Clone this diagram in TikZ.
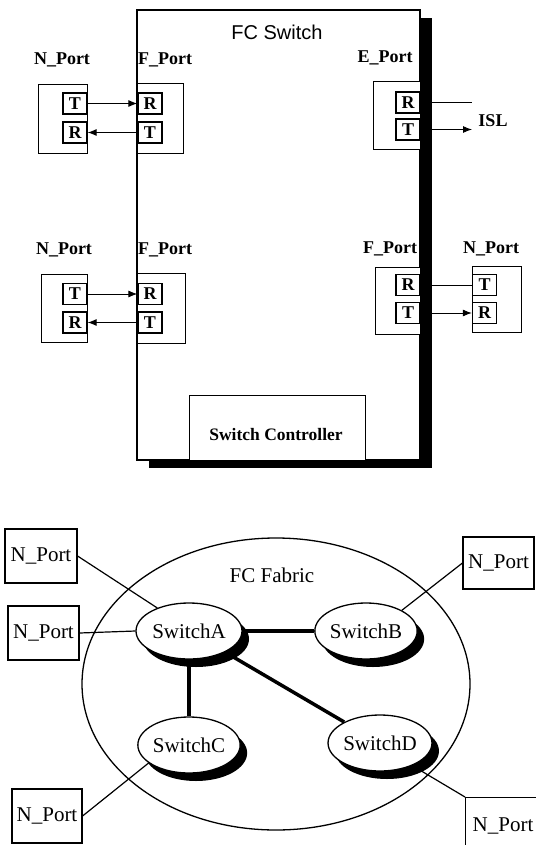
\documentclass[tikz,border=0pt]{standalone}
\usepackage{fontspec}
\setmainfont{Liberation Serif}
\newfontfamily\hvfont{Liberation Sans}
\usetikzlibrary{shapes.geometric, arrows.meta, shadows}
\tikzset{
  lbl/.style={font=\bfseries\fontsize{18}{18}\selectfont, inner sep=0pt},
  housing/.style={draw, fill=white, line width=0.9pt, inner sep=0pt},
  trbox/.style={draw, fill=white, line width=1.3pt, minimum width=24pt, minimum height=21pt,
    inner sep=0pt, font=\bfseries\fontsize{18}{18}\selectfont},
  wire/.style={line width=0.9pt},
  arr/.style={wire, -{Latex[length=9pt,width=7pt]}},
  swnode/.style={ellipse, draw, fill=white, line width=1.3pt, minimum width=100pt,
    minimum height=56pt, inner sep=0pt, font=\fontsize{21}{21}\selectfont,
    preaction={fill=black, transform canvas={shift={(7pt,-8pt)}}}},
  nport/.style={draw, fill=white, line width=1.1pt, minimum width=71pt, minimum height=54pt,
    inner sep=0pt, font=\fontsize{21}{21}\selectfont},
  link/.style={line width=3.5pt},
  fwire/.style={line width=1.2pt}
}

\begin{document}
\begin{tikzpicture}[x=1pt, y=-1pt]
  \useasboundingbox (0,0) rectangle (535,845);
  % FC Switch
  \node[draw, fill=white, line width=1.2pt, minimum width=283pt, minimum height=450pt, inner sep=0pt,
    drop shadow={shadow xshift=12pt, shadow yshift=-8pt, fill=black, opacity=1}] (fcsw) at (278.5,235) {};
  \node[font=\hvfont\fontsize{20}{20}\selectfont] (fctitle) at (277,32) {FC Switch};
  % port names
  \node[lbl] (n1lbl) at (62,60) {N\_Port};
  \node[lbl, anchor=west] (f1lbl) at (138,60) {F\_Port};
  \node[lbl] (elbl) at (385,58) {E\_Port};
  \node[lbl] (n2lbl) at (64,250) {N\_Port};
  \node[lbl, anchor=west] (f2lbl) at (138,250) {F\_Port};
  \node[lbl] (f3lbl) at (390,249) {F\_Port};
  \node[lbl] (n3lbl) at (491,249) {N\_Port};
  % N_Port 1 / F_Port 1
  \node[housing, minimum width=49pt, minimum height=69pt] (n1) at (62.5,118.5) {};
  \node[housing, minimum width=46pt, minimum height=70pt] (f1) at (160,118) {};
  \node[trbox] (n1t) at (75,103.5) {T};
  \node[trbox] (n1r) at (75,132.5) {R};
  \node[trbox] (f1r) at (150,103.5) {R};
  \node[trbox] (f1t) at (150,132.5) {T};
  \draw[arr] (n1t) -- (f1r);
  \draw[arr] (f1t) -- (n1r);
  % N_Port 2 / F_Port 2
  \node[housing, minimum width=46pt, minimum height=68pt] (n2) at (64,308) {};
  \node[housing, minimum width=48pt, minimum height=70pt] (f2) at (161,308) {};
  \node[trbox] (n2t) at (75,294) {T};
  \node[trbox] (n2r) at (75,322.5) {R};
  \node[trbox] (f2r) at (150,294) {R};
  \node[trbox] (f2t) at (150,322.5) {T};
  \draw[arr] (n2t) -- (f2r);
  \draw[arr] (f2t) -- (n2r);
  % E_Port and ISL
  \node[housing, minimum width=47pt, minimum height=68pt] (e1) at (396.5,115) {};
  \node[trbox] (e1r) at (408,102.5) {R};
  \node[trbox] (e1t) at (408,129.5) {T};
  \coordinate (islin) at (472,102.5);
  \coordinate (islout) at (472,129.5);
  \draw[wire] (e1r.east) -- (islin);
  \draw[arr] (e1t.east) -- (islout);
  \node[lbl] (isl) at (493,121) {ISL};
  % F_Port 3 / N_Port 3
  \node[housing, minimum width=45pt, minimum height=67pt] (f3) at (397.5,300.5) {};
  \node[housing, minimum width=49pt, minimum height=66pt] (n3) at (496.5,299) {};
  \node[trbox] (f3r) at (408,285) {R};
  \node[trbox] (f3t) at (408,313) {T};
  \node[trbox] (n3t) at (484.5,285) {T};
  \node[trbox] (n3r) at (484.5,313) {R};
  \draw[wire] (f3r.east) -- (n3t.west);
  \draw[arr] (f3t.east) -- (n3r.west);
  % Switch Controller
  \node[housing, line width=1pt, minimum width=176pt, minimum height=65pt] (ctrl) at (277,427.5) {};
  \node[lbl, font=\bfseries\fontsize{17.5}{17.5}\selectfont] (ctrllbl) at (276,435) {Switch Controller};

  % FC Fabric
  \node[ellipse, draw, line width=1.3pt, minimum width=388pt, minimum height=292pt, inner sep=0pt] (fabric) at (276,684) {};
  \node[font=\fontsize{21}{21}\selectfont] (fablbl) at (272,575) {FC Fabric};
  \node[swnode, minimum width=106pt] (swa) at (189,631) {SwitchA};
  \node[swnode] (swb) at (366,631) {SwitchB};
  \node[swnode, minimum width=96pt] (swc) at (189,745) {SwitchC};
  \node[swnode] (swd) at (380,743) {SwitchD};
  \draw[link] (swa) -- (swb);
  \draw[link] (swa) -- (swc);
  \draw[link] (swa) -- (swd);
  % N_Ports on the fabric
  \node[nport, minimum width=72pt] (np1) at (41,556) {N\_Port};
  \node[nport] (np2) at (43.5,633) {N\_Port};
  \node[nport, minimum height=52pt] (np3) at (498.5,563) {N\_Port};
  \node[nport, minimum width=70pt] (np4) at (47,816) {N\_Port};
  \node[nport, anchor=north west, minimum width=75pt, minimum height=56pt] (np5) at (465,797) {N\_Port};
  \draw[fwire] (np1.east) -- (swa.144);
  \draw[fwire] (np2.east) -- (swa.west);
  \draw[fwire] (np3.west) -- (swb.30);
  \draw[fwire] (np4.east) -- (swc.204);
  \draw[fwire] (np5.north west) -- (swd.-35);
\end{tikzpicture}
\end{document}
